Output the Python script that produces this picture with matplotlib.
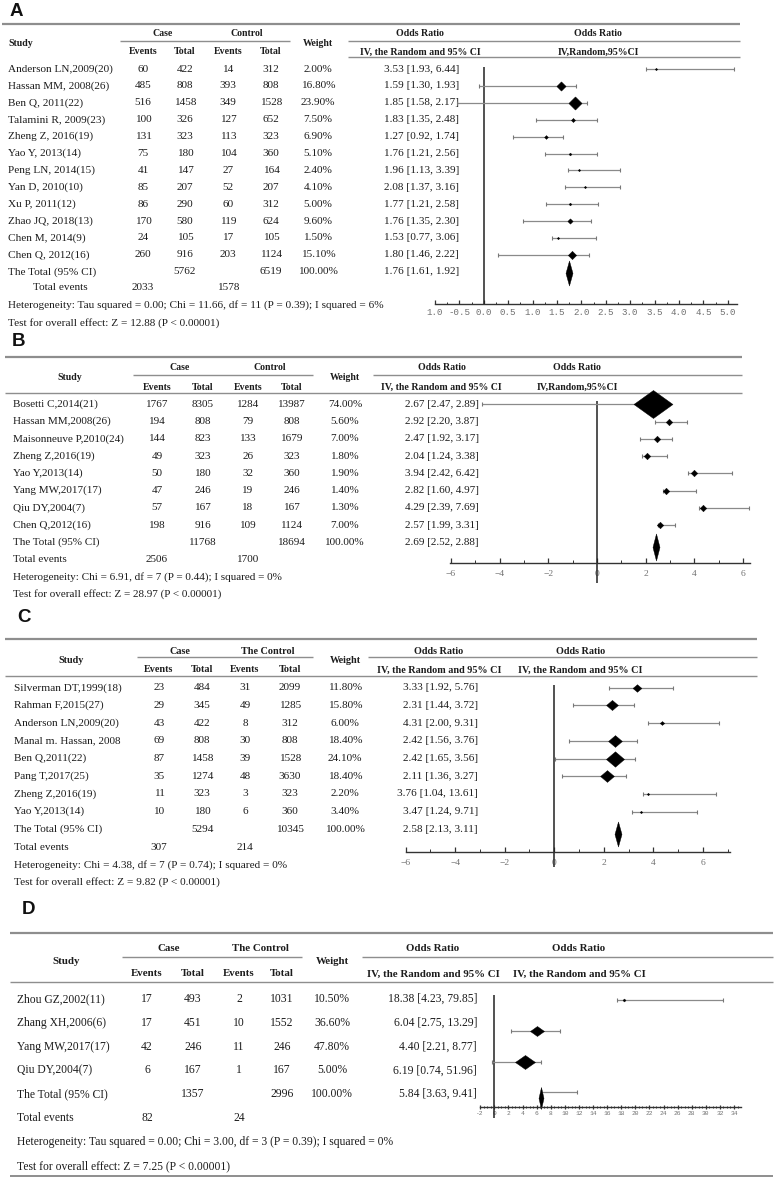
import numpy as np
import matplotlib.pyplot as plt
from matplotlib.path import Path

# Panel A data
a_study = ['Anderson LN,2009(20)', 'Hassan MM, 2008(26)', 'Ben Q, 2011(22)', 'Talamini R, 2009(23)',
           'Zheng Z, 2016(19)', 'Yao Y, 2013(14)', 'Peng LN, 2014(15)', 'Yan D, 2010(10)',
           'Xu P, 2011(12)', 'Zhao JQ, 2018(13)', 'Chen M, 2014(9)', 'Chen Q, 2012(16)']
a_case_ev = [60, 485, 516, 100, 131, 75, 41, 85, 86, 170, 24, 260]
a_case_tot = [422, 808, 1458, 326, 323, 180, 147, 207, 290, 580, 105, 916]
a_ctrl_ev = [14, 393, 349, 127, 113, 104, 27, 52, 60, 119, 17, 203]
a_ctrl_tot = [312, 808, 1528, 652, 323, 360, 164, 207, 312, 624, 105, 1124]
a_weight = [2.0, 16.8, 23.9, 7.5, 6.9, 5.1, 2.4, 4.1, 5.0, 9.6, 1.5, 15.1]
a_or = [3.53, 1.59, 1.85, 1.83, 1.27, 1.76, 1.96, 2.08, 1.77, 1.76, 1.53, 1.80]
a_lo = [1.93, 1.30, 1.58, 1.35, 0.92, 1.21, 1.13, 1.37, 1.21, 1.35, 0.77, 1.46]
a_hi = [6.44, 1.93, 2.17, 2.48, 1.74, 2.56, 3.39, 3.16, 2.58, 2.30, 3.06, 2.22]
a_total_n = [5762, 6519]
a_total_events = [2033, 1578]
a_total_or = [1.76, 1.61, 1.92]
# where the marks sit on the drawn axis
a_pt = [3.52, 1.59, 1.86, 1.83, 1.27, 1.76, 1.95, 2.08, 1.77, 1.76, 1.52, 1.80]
a_pl = [3.33, -0.10, -0.54, 1.08, 0.59, 1.26, 1.73, 1.67, 1.27, 0.81, 1.39, 0.29]
a_ph = [5.13, 1.88, 2.12, 2.32, 1.63, 2.32, 2.79, 2.79, 2.34, 2.19, 2.31, 2.15]
a_pool = 1.75
a_ticklabels = ['1.0', '-0.5', '0.0', '0.5', '1.0', '1.5', '2.0', '2.5', '3.0', '3.5', '4.0', '4.5', '5.0']
a_het = 'Heterogeneity: Tau squared = 0.00; Chi = 11.66, df = 11 (P = 0.39); I squared = 6%'
a_test = 'Test for overall effect: Z = 12.88 (P < 0.00001)'

# Panel B data
b_study = ['Bosetti C,2014(21)', 'Hassan MM,2008(26)', 'Maisonneuve P,2010(24)', 'Zheng Z,2016(19)',
           'Yao Y,2013(14)', 'Yang MW,2017(17)', 'Qiu DY,2004(7)', 'Chen Q,2012(16)']
b_case_ev = [1767, 194, 144, 49, 50, 47, 57, 198]
b_case_tot = [8305, 808, 823, 323, 180, 246, 167, 916]
b_ctrl_ev = [1284, 79, 133, 26, 32, 19, 18, 109]
b_ctrl_tot = [13987, 808, 1679, 323, 360, 246, 167, 1124]
b_weight = [74.0, 5.6, 7.0, 1.8, 1.9, 1.4, 1.3, 7.0]
b_or = [2.67, 2.92, 2.47, 2.04, 3.94, 2.82, 4.29, 2.57]
b_lo = [2.47, 2.20, 1.92, 1.24, 2.42, 1.60, 2.39, 1.99]
b_hi = [2.89, 3.87, 3.17, 3.38, 6.42, 4.97, 7.69, 3.31]
b_total_n = [11768, 18694]
b_total_events = [2506, 1700]
b_total_or = [2.69, 2.52, 2.88]
b_pt = [2.29, 2.94, 2.48, 2.04, 3.96, 2.82, 4.33, 2.59]
b_pl = [-4.74, 2.38, 1.77, 1.86, 3.75, 2.70, 4.20, 2.52]
b_ph = [2.77, 3.68, 3.07, 2.89, 5.53, 4.07, 6.25, 3.20]
b_pool = 2.42
b_ticklabels = ['\u22126', '\u22124', '\u22122', '0', '2', '4', '6']
b_het = 'Heterogeneity: Chi = 6.91, df = 7 (P = 0.44); I squared = 0%'
b_test = 'Test for overall effect: Z = 28.97 (P < 0.00001)'

# Panel C data
c_study = ['Silverman DT,1999(18)', 'Rahman F,2015(27)', 'Anderson LN,2009(20)', 'Manal m. Hassan, 2008',
           'Ben Q,2011(22)', 'Pang T,2017(25)', 'Zheng Z,2016(19)', 'Yao Y,2013(14)']
c_case_ev = [23, 29, 43, 69, 87, 35, 11, 10]
c_case_tot = [484, 345, 422, 808, 1458, 1274, 323, 180]
c_ctrl_ev = [31, 49, 8, 30, 39, 48, 3, 6]
c_ctrl_tot = [2099, 1285, 312, 808, 1528, 3630, 323, 360]
c_weight = [11.8, 15.8, 6.0, 18.4, 24.1, 18.4, 2.2, 3.4]
c_or = [3.33, 2.31, 4.31, 2.42, 2.42, 2.11, 3.76, 3.47]
c_lo = [1.92, 1.44, 2.00, 1.56, 1.65, 1.36, 1.04, 1.24]
c_hi = [5.76, 3.72, 9.31, 3.76, 3.56, 3.27, 13.61, 9.71]
c_total_n = [5294, 10345]
c_total_events = [307, 214]
c_total_or = [2.58, 2.13, 3.11]
c_pt = [3.36, 2.35, 4.36, 2.47, 2.47, 2.15, 3.78, 3.52]
c_pl = [2.21, 0.77, 3.78, 0.60, 0.03, 0.30, 3.58, 3.15]
c_ph = [4.79, 3.22, 6.67, 3.34, 3.25, 2.89, 6.54, 5.76]
c_pool = 2.57
c_ticklabels = ['\u22126', '\u22124', '\u22122', '0', '2', '4', '6']
c_het = 'Heterogeneity: Chi = 4.38, df = 7 (P = 0.74); I squared = 0%'
c_test = 'Test for overall effect: Z = 9.82 (P < 0.00001)'

# Panel D data
d_study = ['Zhou GZ,2002(11)', 'Zhang XH,2006(6)', 'Yang MW,2017(17)', 'Qiu DY,2004(7)']
d_case_ev = [17, 17, 42, 6]
d_case_tot = [493, 451, 246, 167]
d_ctrl_ev = [2, 10, 11, 1]
d_ctrl_tot = [1031, 1552, 246, 167]
d_weight = [10.5, 36.6, 47.8, 5.0]
d_or = [18.38, 6.04, 4.40, 6.19]
d_lo = [4.23, 2.75, 2.21, 0.74]
d_hi = [79.85, 13.29, 8.77, 51.96]
d_total_n = [1357, 2996]
d_total_events = [82, 24]
d_total_or = [5.84, 3.63, 9.41]
d_pt = [18.4, 6.01, 4.35]
d_pl = [17.36, 2.37, -0.38]
d_ph = [32.5, 9.32, 6.58]
d_pool = 6.58
d_pool_ci = [6.6, 11.69]
d_ticklabels = ['-2', '0', '2', '4', '6', '8', '10', '12', '14', '16', '18', '20', '22', '24',
                '26', '28', '30', '32', '34']
d_het = 'Heterogeneity: Tau squared = 0.00; Chi = 3.00, df = 3 (P = 0.39); I squared = 0%'
d_test = 'Test for overall effect: Z = 7.25 (P < 0.00001)'

W, H = 774, 1177
SERIF = 'Liberation Serif'
INK = '#1c1c1c'
RULE = '#8e8e8e'

fig = plt.figure(figsize=(W / 100, H / 100), dpi=100)
bg = fig.add_axes([0, 0, 1, 1])
bg.set_xlim(0, W)
bg.set_ylim(H, 0)
bg.axis('off')


def txt(x, y, s, ha='center', size=7.8, bold=False, color=INK):
    bg.text(x, y, s, ha=ha, va='center', fontsize=size, family=SERIF,
            fontweight='bold' if bold else 'normal', color=color)


def rule(y, x0, x1, lw=1.0):
    bg.plot([x0, x1], [y, y], color=RULE, lw=lw, solid_capstyle='butt')


def table(L, study, case_ev, case_tot, ctrl_ev, ctrl_tot, weight, odds, lo, hi,
          total_n, total_events, total_or, het, test):
    bg.text(L['letter'][0], L['letter'][1], L['letter'][2], ha='left', va='center',
            fontsize=13.5, fontweight='bold', family='Liberation Sans', color='#111')
    rule(L['top'], *L['span'], lw=1.6)
    for x0, x1 in L['mid']:
        rule(L['mid_y'], x0, x1)
    for x0, x1 in L['sub']:
        rule(L['sub_y'], x0, x1)
    if 'bottom' in L:
        rule(L['bottom'], *L['span'], lw=1.4)
    hs, fs = L['hfs'], L['fs']
    y1, y2, ym = L['hy1'], L['hy2'], (L['hy1'] + L['hy2']) / 2
    sx, sha = L['study_hdr']
    txt(sx, ym, 'Study', ha=sha, size=hs, bold=True)
    txt(L['case_x'], y1, 'Case', size=hs, bold=True)
    txt(L['ctrl_x'], y1, L['ctrl_label'], size=hs, bold=True)
    cols, wx = L['cols'], L['weight_x']
    for x, s in zip(cols, ['Events', 'Total', 'Events', 'Total']):
        txt(x, y2, s, size=hs, bold=True)
    txt(wx, ym, 'Weight', size=hs, bold=True)
    txt(L['or1_x'], y1, 'Odds Ratio', size=hs, bold=True)
    txt(L['or1_x'], y2, 'IV, the Random and 95% CI', size=hs, bold=True)
    txt(L['or2_x'], y1, 'Odds Ratio', size=hs, bold=True)
    txt(L['or2_x'], y2, L['iv2_label'], size=hs, bold=True)

    ys = L['row0'] + L['step'] * np.arange(len(study) + 1)
    for i in range(len(study)):
        y = ys[i]
        txt(L['name_x'], y, study[i], ha='left', size=fs)
        for x, v in zip(cols, [case_ev[i], case_tot[i], ctrl_ev[i], ctrl_tot[i]]):
            txt(x, y, str(v), size=fs)
        txt(wx, y, f'{weight[i]:.2f}%', size=fs)
        txt(L['or_right'], y, f'{odds[i]:.2f} [{lo[i]:.2f}, {hi[i]:.2f}]', ha='right', size=fs)
    y = ys[-1]
    txt(L['name_x'], y, 'The Total (95% CI)', ha='left', size=fs)
    txt(cols[1], y, str(total_n[0]), size=fs)
    txt(cols[3], y, str(total_n[1]), size=fs)
    txt(wx, y, '100.00%', size=fs)
    txt(L['or_right'], y, f'{total_or[0]:.2f} [{total_or[1]:.2f}, {total_or[2]:.2f}]', ha='right', size=fs)
    txt(L['te_x'], L['te_y'], 'Total events', ha='left', size=fs)
    txt(cols[0], L['te_y'], str(total_events[0]), size=fs)
    txt(cols[2], L['te_y'], str(total_events[1]), size=fs)
    txt(L['name_x'], L['het_y'], het, ha='left', size=fs)
    txt(L['name_x'], L['test_y'], test, ha='left', size=fs)
    return ys


def forest(box, xlim, zero_span, major, minor, labels, lab_font, lab_size, pad, tdir='in', tlen=3.0):
    x0, x1, ytop, yaxis = box
    ax = fig.add_axes([x0 / W, 1 - yaxis / H, (x1 - x0) / W, (yaxis - ytop) / H])
    ax.set_xlim(*xlim)
    ax.set_ylim(yaxis, ytop)
    ax.patch.set_alpha(0)
    for s in ['top', 'right', 'left']:
        ax.spines[s].set_visible(False)
    ax.spines['bottom'].set_color('#333')
    ax.spines['bottom'].set_linewidth(1.0)
    ax.set_yticks([])
    ax.set_xticks(major)
    ax.set_xticklabels(labels, family=lab_font, fontsize=lab_size, color='#707070')
    ax.set_xticks(minor, minor=True)
    ax.tick_params(axis='x', which='major', direction=tdir, length=tlen, width=0.9, pad=pad, color='#333')
    ax.tick_params(axis='x', which='minor', direction=tdir, length=tlen * 0.6, width=0.7, color='#333')
    ax.vlines(0, zero_span[0], zero_span[1], color='#222', lw=1.1, clip_on=False)
    return ax


def diamond(w, h):
    return Path([(-w / 2, 0), (0, h / 2), (w / 2, 0), (0, -h / 2), (-w / 2, 0)], closed=True)


def whiskers(ax, lo, hi, ys, cap=3.5):
    ax.hlines(ys, lo, hi, color='#8a8a8a', lw=0.9, clip_on=False)
    ax.plot(lo, ys, ls='none', marker='|', ms=cap, mew=0.8, color='#777', clip_on=False)
    ax.plot(hi, ys, ls='none', marker='|', ms=cap, mew=0.8, color='#777', clip_on=False)


def marks(ax, xs, ys, sizes):
    for x, y, (w, h) in zip(xs, ys, sizes):
        ax.plot([x], [y], ls='none', marker=diamond(w, h), ms=max(w, h) * 0.72,
                color='black', mec='black', mew=0.3, clip_on=False)


# ---------- A ----------
LA = dict(letter=(10, 11, 'A'), top=24, span=(2, 740), mid_y=41, mid=[(120, 290), (348, 740)],
          sub_y=57, sub=[(348, 740)], hy1=34, hy2=52, study_hdr=(8, 'left'),
          cols=[143, 185, 228, 271], weight_x=318, case_x=163, ctrl_x=247, ctrl_label='Control',
          or1_x=420, or2_x=598, iv2_label='IV,Random,95%CI', or_right=459,
          name_x=8, te_x=33, row0=69, step=16.9, te_y=288, het_y=305, test_y=323, fs=8.1, hfs=7.1)
ys = table(LA, a_study, a_case_ev, a_case_tot, a_ctrl_ev, a_ctrl_tot, a_weight, a_or, a_lo, a_hi,
           a_total_n, a_total_events, a_total_or, a_het, a_test)
ax = forest((435, 737, 60, 304), (-1.0, 5.19), (67, 304), np.arange(-1, 5.01, 0.5),
            np.arange(-1, 5.01, 0.25), a_ticklabels, 'Liberation Mono', 6.6, 3)
whiskers(ax, a_pl, a_ph, ys[:-1])
marks(ax, a_pt, ys[:-1], [(max(2.4, 0.55 * w), max(2.4, 0.55 * w)) for w in a_weight])
marks(ax, [a_pool], [ys[-1] + 1], [(7, 25)])

# ---------- B ----------
LB = dict(letter=(12, 341, 'B'), top=357, span=(5, 742), mid_y=375, mid=[(133, 313), (373, 742)],
          sub_y=393, sub=[(5, 742)], hy1=368, hy2=387, study_hdr=(70, 'center'),
          cols=[157, 203, 248, 292], weight_x=345, case_x=180, ctrl_x=270, ctrl_label='Control',
          or1_x=441.7, or2_x=577, iv2_label='IV,Random,95%CI', or_right=479,
          name_x=13, te_x=13, row0=404.3, step=17.25, te_y=560, het_y=577.3, test_y=594.3, fs=8.0, hfs=7.1)
ys = table(LB, b_study, b_case_ev, b_case_tot, b_ctrl_ev, b_ctrl_tot, b_weight, b_or, b_lo, b_hi,
           b_total_n, b_total_events, b_total_or, b_het, b_test)
ax = forest((450, 750, 395, 563.3), (-6.04, 6.28), (401, 583), np.arange(-6, 6.1, 2),
            np.arange(-5, 6, 2), b_ticklabels, SERIF, 6.8, 4.5, tlen=3.5)
whiskers(ax, b_pl, b_ph, ys[:-1])
marks(ax, b_pt, ys[:-1], [(39, 28)] + [(6.5, 6.5)] * 7)
marks(ax, [b_pool], [ys[-1] + 5], [(7, 27)])

# ---------- C ----------
LC = dict(letter=(17, 617, 'C'), top=639.3, span=(5, 757), mid_y=657.3, mid=[(137, 313), (368, 757)],
          sub_y=676, sub=[(5, 757)], hy1=651, hy2=670, study_hdr=(71, 'center'),
          cols=[159, 202, 245, 290], weight_x=345, case_x=180, ctrl_x=268, ctrl_label='The Control',
          or1_x=439, or2_x=580.7, iv2_label='IV, the Random and 95% CI', or_right=478,
          name_x=14, te_x=14, row0=687.7, step=17.7, te_y=847, het_y=865, test_y=882.3, fs=8.1, hfs=7.3)
ys = table(LC, c_study, c_case_ev, c_case_tot, c_ctrl_ev, c_ctrl_tot, c_weight, c_or, c_lo, c_hi,
           c_total_n, c_total_events, c_total_or, c_het, c_test)
ax = forest((405.7, 730, 680, 852.3), (-5.95, 7.10), (685, 866.7), np.arange(-6, 6.1, 2),
            np.arange(-5, 7.1, 2), c_ticklabels, SERIF, 6.8, 5, tlen=3.5)
whiskers(ax, c_pl, c_ph, ys[:-1])
marks(ax, c_pt, ys[:-1], [(max(2.4, 0.75 * w), max(2.4, 0.64 * w)) for w in c_weight])
marks(ax, [c_pool], [ys[-1] + 5], [(7, 25)])

# ---------- D ----------
LD = dict(letter=(22, 909, 'D'), top=933.3, span=(10, 773), bottom=1176.2, mid_y=957.3,
          mid=[(122, 302), (362, 773)], sub_y=982.3, sub=[(10, 773)], hy1=948.3, hy2=974,
          study_hdr=(66, 'center'), cols=[147, 193, 239, 282], weight_x=332, case_x=169, ctrl_x=260,
          ctrl_label='The Control', or1_x=433, or2_x=579, iv2_label='IV, the Random and 95% CI',
          or_right=477, name_x=17, te_x=17, row0=999, step=23.8, te_y=1118.3, het_y=1142.3,
          test_y=1166.7, fs=8.4, hfs=7.8)
ys = table(LD, d_study, d_case_ev, d_case_tot, d_ctrl_ev, d_ctrl_tot, d_weight, d_or, d_lo, d_hi,
           d_total_n, d_total_events, d_total_or, d_het, d_test)
d_rows = [1000, 1030.7, 1061.7]
ax = forest((480, 740.7, 990, 1107.3), (-2.03, 34.95), (995, 1118), np.arange(-2, 34.1, 2),
            np.arange(-2, 34.6, 0.5), d_ticklabels, 'Liberation Mono', 4.5, 1.5, tdir='inout', tlen=2.5)
whiskers(ax, d_pl, d_ph, d_rows, cap=3)
marks(ax, d_pt, d_rows, [(3, 3), (14, 10), (20, 14)])
whiskers(ax, [d_pool_ci[0]], [d_pool_ci[1]], [1092.3], cap=3)
marks(ax, [d_pool], [1098], [(5, 22)])

fig.savefig('out.png', dpi=100)
